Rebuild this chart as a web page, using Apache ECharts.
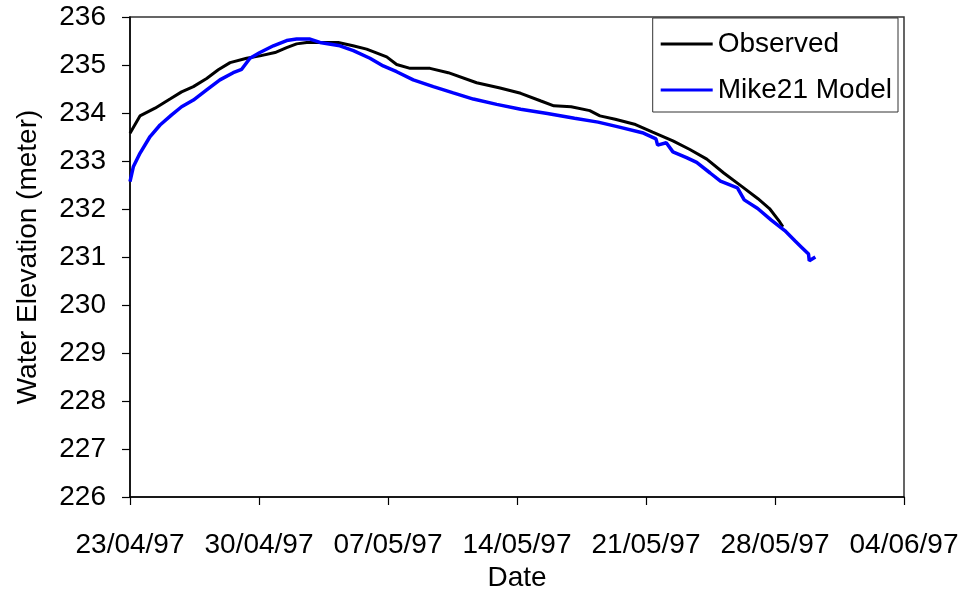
<!DOCTYPE html>
<html>
<head>
<meta charset="utf-8">
<script src="https://cdn.jsdelivr.net/npm/echarts@6/dist/echarts.min.js"></script>
<style>
    html, body { margin: 0; padding: 0; background: #fff; }
    #chart { width: 964px; height: 590px; }
</style>
</head>
<body>
<div id="chart"></div>
<script>
// days after 23/04/97
var dateLabels = ["23/04/97", "30/04/97", "07/05/97", "14/05/97", "21/05/97", "28/05/97", "04/06/97"];

var obsDay = [0, 0.54, 1.36, 2.17, 2.8, 3.44, 4.16, 4.79, 5.43, 6.33, 7.05, 7.87, 8.5, 9.04, 9.59, 11.3, 12.1, 12.84, 13.93, 14.47, 15.2, 16.28, 17.27, 18.81, 20.08, 21.2, 22.3, 23.0, 23.94, 24.95, 25.5, 26.33, 27.43, 28.36, 29.46, 30.38, 31.3, 32.22, 33.23, 34.06, 34.7, 35.26, 35.43];
var obsLevel = [233.58, 233.94, 234.10, 234.29, 234.44, 234.55, 234.72, 234.90, 235.05, 235.14, 235.19, 235.26, 235.36, 235.44, 235.47, 235.47, 235.40, 235.33, 235.17, 235.01, 234.93, 234.93, 234.84, 234.63, 234.52, 234.41, 234.25, 234.15, 234.13, 234.05, 233.94, 233.87, 233.76, 233.60, 233.42, 233.24, 233.04, 232.75, 232.46, 232.22, 232.01, 231.73, 231.63];

var modelDay = [0, 0.18, 0.54, 1.09, 1.63, 2.26, 2.8, 3.44, 4.16, 4.88, 5.6, 6.06, 6.51, 7.05, 7.78, 8.5, 9.04, 9.77, 10.31, 11.39, 12.12, 13.02, 13.74, 14.47, 15.37, 16.46, 17.54, 18.63, 19.9, 21.2, 22.65, 24.12, 25.4, 26.5, 27.8, 28.54, 28.63, 29.1, 29.46, 30.2, 30.75, 31.48, 32.04, 32.96, 33.33, 34.06, 34.8, 35.53, 36.08, 36.45, 36.82, 36.86, 37.19];
var modelLevel = [232.57, 232.88, 233.16, 233.51, 233.75, 233.96, 234.13, 234.27, 234.48, 234.69, 234.84, 234.91, 235.14, 235.26, 235.40, 235.51, 235.54, 235.54, 235.47, 235.40, 235.30, 235.14, 234.98, 234.86, 234.69, 234.55, 234.42, 234.29, 234.18, 234.08, 233.99, 233.89, 233.81, 233.71, 233.59, 233.46, 233.33, 233.38, 233.19, 233.07, 232.97, 232.75, 232.58, 232.44, 232.19, 232.01, 231.77, 231.55, 231.34, 231.20, 231.06, 230.92, 231.00];

(function() {
    var chart = echarts.init(document.getElementById("chart")),
        font = "Liberation Sans, Arial, sans-serif";

    function pairs(xs, ys) {
        return xs.map(function(x, i) {
            return [x, ys[i]];
        });
    }

    var option = {
        animation: false,
        backgroundColor: "#fff",
        textStyle: { fontFamily: font, color: "#000" },
        grid: {
            left: 130, right: 60, top: 17, bottom: 93,
            outerBoundsMode: "none",
            containLabel: false,
            show: true, borderColor: "#333", borderWidth: 1.5
        },
        legend: {
            right: 66, top: 18,
            orient: "vertical",
            backgroundColor: "#fff",
            borderColor: "#333", borderWidth: 1,
            padding: [10, 6, 6, 8],
            itemGap: 14,
            icon: "rect",
            itemWidth: 52, itemHeight: 3,
            textStyle: { fontSize: 28, fontFamily: font, color: "#000", lineHeight: 32 },
            data: ["Observed", "Mike21 Model"]
        },
        xAxis: {
            type: "value",
            min: 0, max: 42, interval: 7,
            name: "Date",
            nameLocation: "middle",
            nameGap: 60,
            nameTextStyle: { fontSize: 28, color: "#000" },
            axisLine: { lineStyle: { color: "#000", width: 1.5 } },
            axisTick: { length: 8, lineStyle: { color: "#000", width: 1.2 } },
            axisLabel: {
                fontSize: 28, color: "#000", margin: 34,
                formatter: function(v) {
                    return dateLabels[Math.round(v / 7)];
                }
            },
            splitLine: { show: false }
        },
        yAxis: {
            type: "value",
            min: 226, max: 236, interval: 1,
            name: "Water Elevation (meter)",
            nameLocation: "middle",
            nameGap: 88,
            nameRotate: 90,
            nameTextStyle: { fontSize: 28, color: "#000" },
            axisLine: { show: true, lineStyle: { color: "#000", width: 1.5 } },
            axisTick: { show: true, length: 8, lineStyle: { color: "#000", width: 1.2 } },
            axisLabel: { fontSize: 28, color: "#000", margin: 24 },
            splitLine: { show: false }
        },
        series: [{
                name: "Observed",
                type: "line",
                symbol: "none",
                lineStyle: { color: "#000", width: 3 },
                itemStyle: { color: "#000" },
                data: pairs(obsDay, obsLevel),
                z: 2
            },
            {
                name: "Mike21 Model",
                type: "line",
                symbol: "none",
                lineStyle: { color: "#0000ff", width: 3.5 },
                itemStyle: { color: "#0000ff" },
                data: pairs(modelDay, modelLevel),
                z: 3
            }
        ]
    };

    chart.setOption(option);
}());
</script>
</body>
</html>
